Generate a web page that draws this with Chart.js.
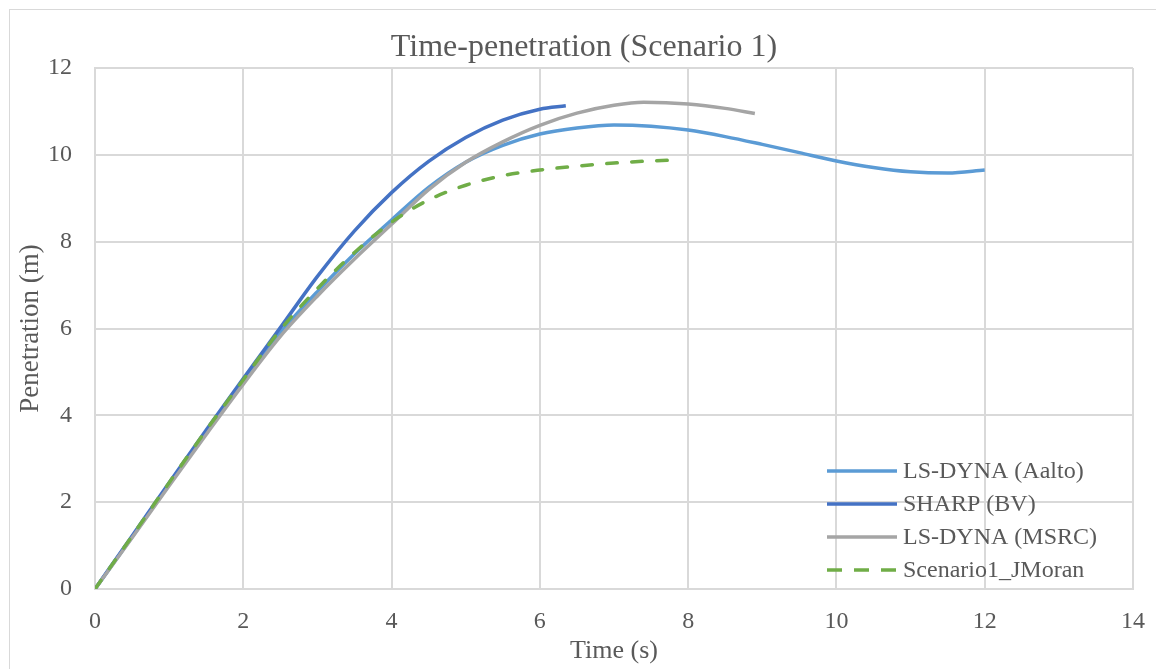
<!DOCTYPE html>
<html>
<head>
<meta charset="utf-8">
<title>Time-penetration (Scenario 1)</title>
<script src="https://cdn.jsdelivr.net/npm/chart.js@4.4.1/dist/chart.umd.min.js"></script>
<style>
  html, body { margin: 0; padding: 0; background: #fff; overflow: hidden; }
  #wrap { position: relative; width: 1156px; height: 669px; overflow: hidden; }
  #frame {
    position: absolute; left: 9px; top: 9px; width: 1200px; height: 700px;
    border: 1.5px solid #d9d9d9; box-sizing: border-box; pointer-events: none;
  }
  canvas { position: absolute; left: 0; top: 0; }
</style>
</head>
<body>
<div id="wrap">
  <div id="frame"></div>
  <canvas id="penChart" width="1156" height="669"></canvas>
</div>
<script>
// series: time (s) and penetration (m)
const timeAalto = [0, 0.5, 1, 1.5, 2, 2.5, 3, 3.5, 4, 4.5, 5, 5.5, 6, 6.5, 7, 7.5, 8, 8.5, 9, 9.5, 10, 10.5, 11, 11.5, 12];
const penAalto = [0, 1.2, 2.42, 3.62, 4.78, 5.9, 6.85, 7.72, 8.5, 9.25, 9.83, 10.22, 10.48, 10.62, 10.69, 10.66, 10.57, 10.42, 10.24, 10.05, 9.86, 9.71, 9.61, 9.58, 9.65];

const timeSharp = [0, 0.5, 1, 1.5, 2, 2.5, 3, 3.5, 4, 4.5, 5, 5.5, 6, 6.35];
const penSharp = [0, 1.22, 2.45, 3.66, 4.85, 6.02, 7.2, 8.25, 9.13, 9.85, 10.4, 10.8, 11.05, 11.13];

const timeMsrc = [0, 0.5, 1, 1.5, 2, 2.5, 3, 3.5, 4, 4.5, 5, 5.5, 6, 6.5, 7, 7.4, 8, 8.5, 8.9];
const penMsrc = [0, 1.18, 2.38, 3.56, 4.72, 5.82, 6.75, 7.6, 8.4, 9.2, 9.83, 10.3, 10.68, 10.96, 11.14, 11.21, 11.17, 11.07, 10.95];

const timeMoran = [0, 0.5, 1, 1.5, 2, 2.5, 3, 3.5, 4, 4.5, 5, 5.5, 6, 6.5, 7, 7.5, 7.85];
const penMoran = [0, 1.22, 2.45, 3.66, 4.82, 5.97, 6.92, 7.75, 8.45, 8.96, 9.3, 9.52, 9.65, 9.74, 9.81, 9.86, 9.88];

const seriesNames = ["LS-DYNA (Aalto)", "SHARP (BV)", "LS-DYNA (MSRC)", "Scenario1_JMoran"];
const seriesColors = ["#5b9bd5", "#4472c4", "#a5a5a5", "#70ad47"];

const xTicks = [0, 2, 4, 6, 8, 10, 12, 14];
const yTicks = [0, 2, 4, 6, 8, 10, 12];

const chartTitle = "Time-penetration (Scenario 1)";

const serif = "'Times New Roman', 'Liberation Serif', serif";
const textGrey = "#595959";
const gridGrey = "#d9d9d9";

function toPoints(xs, ys) {
  return xs.map((x, i) => ({ x: x, y: ys[i] }));
}

// title centred on the whole chart frame, not on the canvas layout box
const frameTitle = {
  id: "frameTitle",
  afterDraw(chart) {
    const { ctx } = chart;
    ctx.save();
    ctx.font = "32px " + serif;
    ctx.fillStyle = textGrey;
    ctx.textAlign = "center";
    ctx.textBaseline = "middle";
    ctx.fillText(chartTitle, 584, 47.5);
    ctx.restore();
  },
};

// legend sits inside the plot, lower right
const insideLegend = {
  id: "insideLegend",
  afterDraw(chart) {
    const { ctx, chartArea } = chart;
    const x0 = chartArea.right - 306;
    ctx.save();
    ctx.font = "24px " + serif;
    ctx.textBaseline = "middle";
    ctx.textAlign = "left";
    chart.data.datasets.forEach((ds, i) => {
      const y = chartArea.bottom - 118 + i * 33;
      ctx.strokeStyle = ds.borderColor;
      ctx.lineWidth = ds.borderWidth;
      ctx.lineCap = "butt";
      ctx.setLineDash(ds.borderDash ? [15, 12] : []);
      ctx.beginPath();
      ctx.moveTo(x0, y);
      ctx.lineTo(x0 + 70, y);
      ctx.stroke();
      ctx.fillStyle = textGrey;
      ctx.fillText(ds.label, x0 + 76, y + 1);
    });
    ctx.restore();
  },
};

const lineStyle = {
  borderWidth: 3.5,
  pointRadius: 0,
  pointHoverRadius: 0,
  fill: false,
  cubicInterpolationMode: "monotone",
};

const ctx = document.getElementById("penChart").getContext("2d");
new Chart(ctx, {
  type: "line",
  data: {
    datasets: [
      { ...lineStyle, label: seriesNames[0], data: toPoints(timeAalto, penAalto), borderColor: seriesColors[0], order: 4 },
      { ...lineStyle, label: seriesNames[1], data: toPoints(timeSharp, penSharp), borderColor: seriesColors[1], order: 3 },
      { ...lineStyle, label: seriesNames[2], data: toPoints(timeMsrc, penMsrc), borderColor: seriesColors[2], order: 2 },
      {
        ...lineStyle, label: seriesNames[3], data: toPoints(timeMoran, penMoran), borderColor: seriesColors[3], order: 1,
        borderDash: [10.5, 14.5], borderCapStyle: "round",
      },
    ],
  },
  options: {
    responsive: false,
    animation: false,
    devicePixelRatio: 1,
    layout: { padding: { left: 0, right: 23, top: 68, bottom: 0 } },
    plugins: {
      legend: { display: false },
      tooltip: { enabled: false },
      title: { display: false },
    },
    scales: {
      x: {
        type: "linear",
        min: 0,
        max: 14,
        afterFit: (scale) => {
          scale.height = 80;
          scale.paddingLeft = 0;
          scale.paddingRight = 0;
        },
        afterBuildTicks: (scale) => { scale.ticks = xTicks.map((v) => ({ value: v })); },
        grid: { color: gridGrey, lineWidth: 2, drawTicks: false },
        border: { color: gridGrey, width: 2 },
        ticks: { color: textGrey, padding: 18, font: { family: serif, size: 24 } },
        title: {
          display: true,
          text: "Time (s)",
          color: textGrey,
          font: { family: serif, size: 26, lineHeight: 1.2 },
          padding: { top: 0, bottom: 2 },
        },
      },
      y: {
        min: 0,
        max: 12,
        afterFit: (scale) => {
          scale.width = 95;
          scale.paddingTop = 0;
          scale.paddingBottom = 0;
        },
        afterBuildTicks: (scale) => { scale.ticks = yTicks.map((v) => ({ value: v })); },
        grid: { color: gridGrey, lineWidth: 2, drawTicks: false },
        border: { color: gridGrey, width: 2 },
        ticks: { color: textGrey, padding: 23, font: { family: serif, size: 24 } },
        title: {
          display: true,
          text: "Penetration (m)",
          color: textGrey,
          font: { family: serif, size: 27, lineHeight: 1.2 },
          padding: { top: 15, bottom: 0 },
        },
      },
    },
  },
  plugins: [frameTitle, insideLegend],
});
</script>
</body>
</html>
